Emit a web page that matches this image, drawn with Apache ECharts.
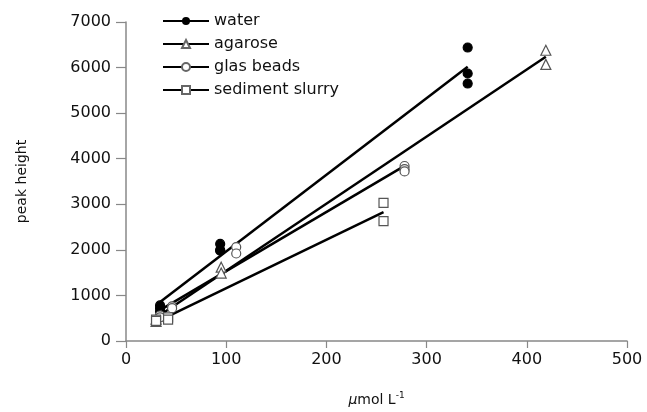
<!DOCTYPE html>
<html>
<head>
<meta charset="utf-8">
<script src="https://cdn.jsdelivr.net/npm/echarts@6/dist/echarts.min.js"></script>
<style>
  html, body { margin: 0; padding: 0; background: #fff; }
  #chart { width: 647px; height: 412px; }
</style>
</head>
<body>
<div id="chart"></div>
<script>
// Calibration measurements: concentration (µmol L-1) vs. detector peak height
const seriesNames = ['water', 'agarose', 'glas beads', 'sediment slurry'];

const waterX = [34, 34, 34, 94, 94, 94, 341, 341, 341];
const waterY = [780, 720, 650, 2130, 2000, 1980, 6440, 5870, 5650];

const agaroseX = [30, 30, 35, 95, 95, 419, 419];
const agaroseY = [480, 430, 550, 1620, 1490, 6380, 6070];

const glassX = [34, 34, 46, 46, 110, 110, 278, 278, 278];
const glassY = [560, 520, 760, 720, 2060, 1920, 3840, 3770, 3720];

const sedimentX = [30, 30, 42, 42, 257, 257];
const sedimentY = [470, 440, 520, 470, 3030, 2630];

const xTicks = [0, 100, 200, 300, 400, 500];
const yTicks = [0, 1000, 2000, 3000, 4000, 5000, 6000, 7000];

// least-squares fit drawn between the smallest and largest concentration
function fitLine(xs, ys) {
  const n = xs.length;
  const mx = xs.reduce((a, b) => a + b, 0) / n;
  const my = ys.reduce((a, b) => a + b, 0) / n;
  let sxy = 0, sxx = 0;
  for (let i = 0; i < n; i++) {
    sxy += (xs[i] - mx) * (ys[i] - my);
    sxx += (xs[i] - mx) * (xs[i] - mx);
  }
  const slope = sxy / sxx;
  const icpt = my - slope * mx;
  const x0 = Math.min(...xs), x1 = Math.max(...xs);
  return [[x0, icpt + slope * x0], [x1, icpt + slope * x1]];
}

function pairs(xs, ys) { return xs.map((x, i) => [x, ys[i]]); }

const sets = [
  { name: seriesNames[0], xs: waterX, ys: waterY, symbol: 'circle', size: 9, fill: '#000', stroke: '#000' },
  { name: seriesNames[1], xs: agaroseX, ys: agaroseY, symbol: 'triangle', size: 10, fill: '#fff', stroke: '#555' },
  { name: seriesNames[2], xs: glassX, ys: glassY, symbol: 'circle', size: 9, fill: '#fff', stroke: '#555' },
  { name: seriesNames[3], xs: sedimentX, ys: sedimentY, symbol: 'rect', size: 9, fill: '#fff', stroke: '#555' }
];

const FONT = 'DejaVu Sans';
const series = [];
// regression lines first so the legend picks up their line + marker icon
sets.forEach(s => {
  series.push({
    name: s.name,
    type: 'line',
    data: fitLine(s.xs, s.ys),
    symbol: s.fill === '#000' ? 'circle' : 'empty' + s.symbol.charAt(0).toUpperCase() + s.symbol.slice(1),
    showSymbol: false,
    lineStyle: { color: '#000', width: 2.5 },
    itemStyle: { color: s.fill === '#000' ? '#000' : '#666' },
    emphasis: { disabled: true },
    silent: true,
    z: 2
  });
});
sets.forEach(s => {
  series.push({
    name: s.name,
    type: 'scatter',
    data: pairs(s.xs, s.ys),
    symbol: s.symbol,
    symbolSize: s.size,
    itemStyle: { color: s.fill, borderColor: s.stroke, borderWidth: 1.2, opacity: 1 },
    emphasis: { disabled: true },
    silent: true,
    z: 3
  });
});

const chart = echarts.init(document.getElementById('chart'), null, { renderer: 'canvas' });
chart.setOption({
  animation: false,
  backgroundColor: '#fff',
  textStyle: { fontFamily: FONT },
  grid: { left: 126, right: 20, top: 22, bottom: 71, containLabel: false },
  legend: {
    orient: 'vertical',
    left: 157,
    top: 7,
    itemWidth: 46,
    itemHeight: 10,
    itemGap: 5,
    data: seriesNames,
    textStyle: { fontFamily: FONT, fontSize: 16, color: '#111', lineHeight: 18 },
    selectedMode: false
  },
  xAxis: {
    type: 'value',
    min: xTicks[0],
    max: xTicks[xTicks.length - 1],
    interval: 100,
    name: '{mu|μ}mol L{sup|-1}',
    nameLocation: 'middle',
    nameGap: 50,
    nameTextStyle: {
      fontFamily: FONT, fontSize: 14, color: '#111',
      rich: {
        mu: { fontFamily: FONT, fontSize: 14, fontStyle: 'italic', color: '#111' },
        sup: { fontFamily: FONT, fontSize: 9, color: '#111', padding: [0, 0, 9, 0] }
      }
    },
    axisLine: { show: true, lineStyle: { color: '#888', width: 1.5 } },
    axisTick: { show: true, inside: false, length: 7, lineStyle: { color: '#888', width: 1.2 } },
    axisLabel: { fontFamily: FONT, fontSize: 16, color: '#111', margin: 11, formatter: v => String(v) },
    splitLine: { show: false }
  },
  yAxis: {
    type: 'value',
    min: yTicks[0],
    max: yTicks[yTicks.length - 1],
    interval: 1000,
    name: 'peak height',
    nameLocation: 'middle',
    nameGap: 97,
    nameRotate: 90,
    nameTextStyle: { fontFamily: FONT, fontSize: 14, color: '#111' },
    axisLine: { show: true, lineStyle: { color: '#888', width: 1.5 } },
    axisTick: { show: true, inside: false, length: 10, lineStyle: { color: '#888', width: 1.2 } },
    axisLabel: { fontFamily: FONT, fontSize: 16, color: '#111', margin: 15, formatter: v => String(v) },
    splitLine: { show: false }
  },
  series: series
});
</script>
</body>
</html>
